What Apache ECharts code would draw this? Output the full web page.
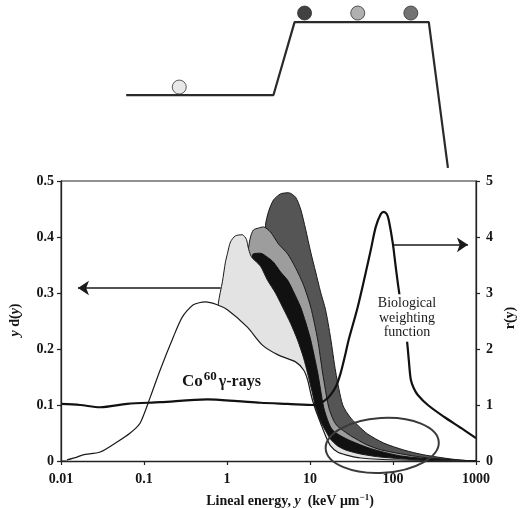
<!DOCTYPE html>
<html><head><meta charset="utf-8">
<script src="https://cdn.jsdelivr.net/npm/echarts@6/dist/echarts.min.js"></script>
<style>html,body{margin:0;padding:0;background:#fff}#c{width:522px;height:508px}</style>
</head><body><div id="c"></div>
<script>
// ---------- tick labels ----------
const xTickLabels = ['0.01','0.1','1','10','100','1000'];
const leftTickLabels = ['0','0.1','0.2','0.3','0.4','0.5'];
const rightTickLabels = ['0','1','2','3','4','5'];

// ---------- Co-60 gamma-ray spectrum y d(y) ----------
const co60X = [0.0118,0.0156,0.0184,0.0296,0.0474,0.0682,0.09,0.119,0.157,0.225,0.289,0.393,0.548,0.76,1.01,1.76,2.67,4.18,6.7,8.37,9.35,10.2,10.7,11.7,13.4,15.4,17.7,21.5,26.9,40.8,124,1000];
const co60Y = [0.002,0.007,0.011,0.016,0.034,0.05,0.068,0.114,0.163,0.221,0.257,0.279,0.284,0.279,0.27,0.239,0.207,0.189,0.177,0.1625,0.145,0.121,0.109,0.091,0.068,0.045,0.027,0.016,0.011,0.0054,0.0018,0];

// ---------- light grey spectrum ----------
const lightX = [0.119,0.274,0.477,0.63,0.724,0.787,0.88,0.957,1.011,1.10,1.26,1.53,1.71,1.81,1.92,2.03,2.53,3.07,3.84,4.67,5.83,7.08,8.37,9.35,10.7,11.7,13.4,15.4,17.7,21.5,26.9,40.8,71.3,217,1000];
const lightY = [0.002,0.011,0.0375,0.109,0.216,0.282,0.320,0.355,0.370,0.391,0.402,0.404,0.396,0.380,0.368,0.362,0.348,0.323,0.30,0.275,0.246,0.216,0.184,0.157,0.121,0.096,0.071,0.054,0.039,0.027,0.0196,0.0125,0.007,0.0018,0];

// ---------- black spectrum ----------
const blackX = [0.477,0.832,1.26,1.67,1.87,1.97,2.08,2.53,3.16,3.63,4.42,5.36,6.34,7.7,8.85,10.2,12.4,14.6,16.8,18.8,23.4,30.9,54,124,378,1000];
const blackY = [0,0.0054,0.0375,0.109,0.252,0.355,0.370,0.371,0.3625,0.355,0.3375,0.323,0.302,0.275,0.248,0.216,0.157,0.096,0.068,0.055,0.045,0.036,0.022,0.009,0.0025,0];

// ---------- medium grey spectrum ----------
const midX = [0.548,0.957,1.37,1.67,1.81,1.92,2.08,2.39,2.75,3.34,4.18,5.36,6.7,8.37,10.2,12.4,14.2,16.8,19.3,21.5,26.9,30.9,46.9,71.3,217,499,1000];
const midY = [0,0.011,0.055,0.216,0.377,0.40,0.4125,0.416,0.418,0.409,0.3875,0.37,0.345,0.314,0.275,0.216,0.157,0.096,0.072,0.062,0.051,0.045,0.03,0.02,0.007,0.0025,0];

// ---------- dark grey spectrum ----------
const darkX = [0.724,1.45,2.03,2.39,2.68,2.91,3.16,3.63,4.42,5.52,6.7,7.7,8.85,10.2,11.7,13.4,15.4,17.7,20.4,24.8,30.9,40.8,49.6,77.4,135,235,499,871];
const darkY = [0,0.011,0.0375,0.109,0.2875,0.421,0.445,0.466,0.477,0.479,0.471,0.45,0.414,0.373,0.3375,0.302,0.27,0.22,0.159,0.1,0.077,0.059,0.048,0.032,0.0196,0.011,0.0036,0];

// ---------- biological weighting function r(y) (right axis) ----------
const rX = [0.01,0.017,0.0296,0.0626,0.157,0.58,1.33,2.53,5.36,11.7,15.4,17.7,20.4,23.4,26.9,29.2,37.6,46.9,54,62,71.3,77.4,84.1,89,99.4,108,117.5,131,147,155,164,178,199,263,411,659,1000];
const rY = [1.02,1.0,0.96,1.02,1.05,1.1,1.07,1.04,1.02,1.0,1.09,1.18,1.32,1.57,1.93,2.16,2.75,3.36,3.77,4.18,4.41,4.45,4.41,4.3,3.89,3.46,3.05,2.6,2.16,1.8,1.45,1.3,1.18,1.0,0.79,0.59,0.41];

// ---------- annotations (data units) ----------
const leftArrowX = [0.84, 0.016];
const leftArrowY = [0.309, 0.309];
const rightArrowX = [99.4, 800];
const rightArrowR = [3.86, 3.86];
const ellipseX = [15.4, 357];
const ellipseY = [-0.021, 0.077];

// ---------- schematic above the plot (same log x scale, 0..1 height) ----------
const schemX = [0.061, 3.63, 6.52, 270, 459];
const schemY = [0.475, 0.475, 0.878, 0.878, 0.072];
const ballX = [0.266, 8.6, 37.6, 164];
const ballY = [0.519, 0.928, 0.928, 0.928];
const ballColors = ['#e2e2e2', '#111111', '#9c9c9c', '#505050'];

const FONT = '"Liberation Serif","Times New Roman",serif';
const zip = (xs, ys) => xs.map((x, i) => [x, ys[i]]);

function areaSeries(name, xs, ys, fill, stroke, lw, z) {
  return {
    name, type: 'line', xAxisIndex: 0, yAxisIndex: 0, data: zip(xs, ys), z,
    symbol: 'none', smooth: 0.25, silent: true, animation: false,
    lineStyle: { color: stroke, width: lw }, itemStyle: { color: stroke },
    areaStyle: { color: fill, opacity: 1 }
  };
}

const chart = echarts.init(document.getElementById('c'));

const tickLabel = { fontFamily: FONT, fontWeight: 'bold', fontSize: 14, color: '#151515' };

const option = {
  animation: false,
  backgroundColor: '#ffffff',
  grid: [
    { left: 61, right: 46, top: 181, bottom: 47, show: true, borderColor: '#222', borderWidth: 1, backgroundColor: 'transparent' },
    { left: 61, right: 46, top: 0, height: 181, show: false }
  ],
  xAxis: [
    { type: 'log', logBase: 10, min: 0.01, max: 1000, gridIndex: 0, z: 20,
      axisLine: { show: true, lineStyle: { color: '#222', width: 1.3 } },
      axisTick: { show: true, inside: false, length: 4, lineStyle: { color: '#222', width: 1.2 } },
      minorTick: { show: false }, splitLine: { show: false },
      axisLabel: Object.assign({ margin: 11, formatter: v => xTickLabels[Math.round(Math.log10(v)) + 2] }, tickLabel) },
    { type: 'log', logBase: 10, min: 0.01, max: 1000, gridIndex: 1, show: false }
  ],
  yAxis: [
    { type: 'value', min: 0, max: 0.5, interval: 0.1, gridIndex: 0, position: 'left', z: 20,
      axisLine: { show: true, lineStyle: { color: '#222', width: 1.3 } },
      axisTick: { show: true, inside: false, length: 4, lineStyle: { color: '#222', width: 1.2 } },
      splitLine: { show: false },
      axisLabel: Object.assign({ margin: 7, formatter: v => leftTickLabels[Math.round(v * 10)] }, tickLabel) },
    { type: 'value', min: 0, max: 5, interval: 1, gridIndex: 0, position: 'right', z: 20,
      axisLine: { show: true, lineStyle: { color: '#222', width: 1.3 } },
      axisTick: { show: true, inside: false, length: 4, lineStyle: { color: '#222', width: 1.2 } },
      splitLine: { show: false },
      axisLabel: Object.assign({ margin: 10, formatter: v => rightTickLabels[Math.round(v)] }, tickLabel) },
    { type: 'value', min: 0, max: 1, gridIndex: 1, show: false }
  ],
  series: [
    areaSeries('dark', darkX, darkY, '#555555', '#1a1a1a', 1, 2),
    areaSeries('medium', midX, midY, '#9d9d9d', '#1a1a1a', 1, 3),
    areaSeries('black', blackX, blackY, '#111111', '#111111', 1, 4),
    areaSeries('light', lightX, lightY, '#e3e3e3', '#1a1a1a', 1, 5),
    Object.assign(areaSeries('co60', co60X, co60Y, '#ffffff', '#1a1a1a', 1.2, 6), {
      markLine: {
        silent: true, animation: false, symbol: ['none', 'arrow'], symbolSize: 11,
        label: { show: false }, emphasis: { disabled: true },
        lineStyle: { color: '#1a1a1a', width: 1.5, type: 'solid' },
        data: [[{ coord: [leftArrowX[0], leftArrowY[0]] }, { coord: [leftArrowX[1], leftArrowY[1]] }]]
      }
    }),
    {
      name: 'r(y)', type: 'line', xAxisIndex: 0, yAxisIndex: 1, data: zip(rX, rY), z: 8,
      symbol: 'none', smooth: 0.3, silent: true, animation: false,
      lineStyle: { color: '#111', width: 2.2 }, itemStyle: { color: '#111' },
      markLine: {
        silent: true, animation: false, symbol: ['none', 'arrow'], symbolSize: 11,
        label: { show: false }, emphasis: { disabled: true },
        lineStyle: { color: '#1a1a1a', width: 1.5, type: 'solid' },
        data: [[{ coord: [rightArrowX[0], rightArrowR[0]] }, { coord: [rightArrowX[1], rightArrowR[1]] }]]
      }
    },
    {
      name: 'schematic', type: 'line', xAxisIndex: 1, yAxisIndex: 2, data: zip(schemX, schemY),
      symbol: 'none', silent: true, animation: false,
      lineStyle: { color: '#2a2a2a', width: 2.2 }
    },
    {
      name: 'balls', type: 'scatter', xAxisIndex: 1, yAxisIndex: 2, symbolSize: 14, silent: true, animation: false,
      data: zip(ballX, ballY).map((p, i) => ({ value: p, itemStyle: { color: ballColors[i], borderColor: '#333', borderWidth: 1 } }))
    }
  ]
};
chart.setOption(option);

// annotation positions from data units
const p0 = chart.convertToPixel({ xAxisIndex: 0, yAxisIndex: 0 }, [ellipseX[0], ellipseY[0]]);
const p1 = chart.convertToPixel({ xAxisIndex: 0, yAxisIndex: 0 }, [ellipseX[1], ellipseY[1]]);
const ecx = (p0[0] + p1[0]) / 2, ecy = (p0[1] + p1[1]) / 2;
const erx = Math.abs(p1[0] - p0[0]) / 2, ery = Math.abs(p1[1] - p0[1]) / 2;

chart.setOption({
  graphic: [
    { type: 'ellipse', x: ecx, y: ecy, rotation: 0.06, silent: true, z: 100,
      shape: { cx: 0, cy: 0, rx: erx, ry: ery },
      style: { fill: 'none', stroke: '#3a3a3a', lineWidth: 2 } },
    { type: 'text', x: 182, y: 380, z: 100, silent: true,
      style: { text: '{a|Co}{s|60}{b|γ-rays}', verticalAlign: 'middle',
        rich: {
          a: { fontFamily: FONT, fontWeight: 'bold', fontSize: 17, fill: '#151515', verticalAlign: 'bottom' },
          s: { fontFamily: FONT, fontWeight: 'bold', fontSize: 13, fill: '#151515', verticalAlign: 'bottom', padding: [0, 2, 7, 1] },
          b: { fontFamily: FONT, fontWeight: 'bold', fontSize: 16, fill: '#151515', verticalAlign: 'bottom' }
        } } },
    { type: 'text', x: 407, y: 318, z: 100, silent: true,
      style: { text: 'Biological\nweighting\nfunction', align: 'center', verticalAlign: 'middle',
        fontFamily: FONT, fontSize: 14, lineHeight: 14.5, fill: '#1a1a1a',
        backgroundColor: '#ffffff', padding: [2, 2, 2, 2] } },
    { type: 'text', x: 290, y: 501, z: 100, silent: true,
      style: { text: '{b|Lineal energy, }{i|y}{b|  (keV μm}{s|−1}{b|)}', align: 'center', verticalAlign: 'middle',
        rich: {
          b: { fontFamily: FONT, fontWeight: 'bold', fontSize: 14, fill: '#151515', verticalAlign: 'bottom' },
          i: { fontFamily: FONT, fontWeight: 'bold', fontStyle: 'italic', fontSize: 14, fill: '#151515', verticalAlign: 'bottom' },
          s: { fontFamily: FONT, fontWeight: 'bold', fontSize: 9, fill: '#151515', verticalAlign: 'bottom', padding: [0, 0, 6, 0] }
        } } },
    { type: 'text', x: 15, y: 320, rotation: Math.PI / 2, z: 100, silent: true,
      style: { text: '{i|y}{b| d(}{i|y}{b|)}', align: 'center', verticalAlign: 'middle',
        rich: {
          b: { fontFamily: FONT, fontWeight: 'bold', fontSize: 14, fill: '#151515' },
          i: { fontFamily: FONT, fontWeight: 'bold', fontStyle: 'italic', fontSize: 14, fill: '#151515' }
        } } },
    { type: 'text', x: 510, y: 318, rotation: Math.PI / 2, z: 100, silent: true,
      style: { text: 'r(y)', align: 'center', verticalAlign: 'middle',
        fontFamily: FONT, fontWeight: 'bold', fontSize: 14, fill: '#151515' } }
  ]
});
</script>
</body></html>
